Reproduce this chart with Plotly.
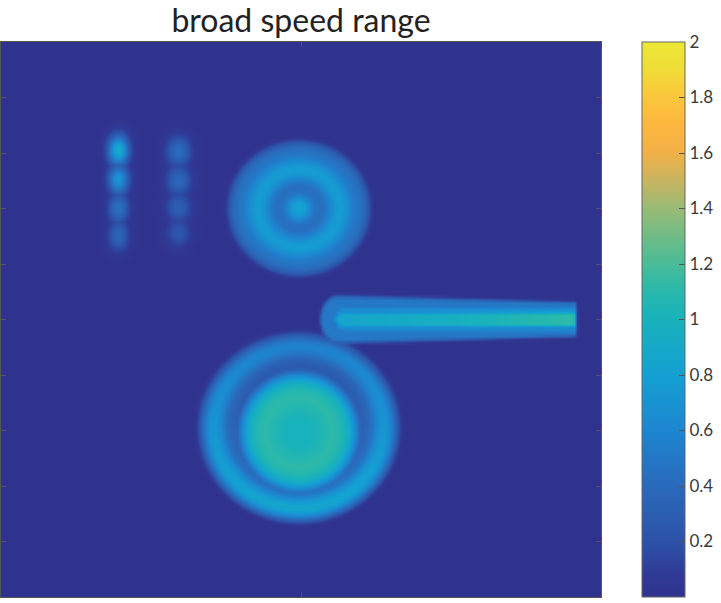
import numpy as np
import plotly.graph_objects as go

# ---------------- data ----------------
TITLE = "broad speed range"
CBAR_TICKS = [0.2, 0.4, 0.6, 0.8, 1.0, 1.2, 1.4, 1.6, 1.8, 2.0]
X_SIZE, Y_SIZE = 603, 555          # domain of the field (plot units)

# two columns of small blobs (upper left)
SPOT_COL_X = [118, 178]
SPOT_COL_Y = [[447, 418, 389, 362], [446, 417, 390, 365]]
SPOT_COL_AMP = [[0.94, 0.72, 0.46, 0.36], [0.42, 0.38, 0.31, 0.24]]
SPOT_COL_SX = [7.0, 8.5]
SPOT_COL_SY = [10.5, 10.5]

# upper target (radial profile)
UPPER_CENTER = (299, 389)
UPPER_ASPECT = 1.06
UPPER_R = [0, 6, 12, 17, 24, 31, 37, 43, 49, 55, 61, 65, 69, 73, 76]
UPPER_V = [0.84, 0.8, 0.6, 0.46, 0.43, 0.58, 0.74, 0.78, 0.66, 0.52, 0.46, 0.4, 0.28, 0.1, 0.0]

# lower target: inner disk and outer ring
DISK_CENTER = (299, 165)
DISK_R = [0, 14, 26, 34, 42, 48, 53, 57, 61, 65, 68]
DISK_V = [1.0, 1.0, 1.07, 1.12, 1.08, 0.98, 0.82, 0.62, 0.42, 0.2, 0.0]
RING_CENTER = (299, 170)
RING_ASPECT = 1.06
RING_R = [0, 54, 60, 66, 72, 78, 84, 89, 94, 98, 102, 105]
RING_V = [0.0, 0.0, 0.3, 0.34, 0.42, 0.6, 0.72, 0.7, 0.52, 0.32, 0.12, 0.0]
RING_BOTTOM_BOOST = 0.2

# horizontal bar (right)
BAR_Y = 278
BAR_HALO_X = [321, 578]
BAR_CORE_X = [338, 577]
BAR_CORE_VX = [338, 450, 577]
BAR_CORE_V = [0.86, 0.96, 1.13]
BAR_HALO_HALF = [24, 17]
BAR_CORE_HALF = 7.5
BAR_HALO_V = 0.5
BAR_GLOW_V = 0.66

# ---------------- field ----------------
STEP = 3
xs = np.arange(0, X_SIZE + STEP, STEP, dtype=float)
ys = np.arange(0, Y_SIZE + STEP, STEP, dtype=float)
X, Y = np.meshgrid(xs, ys)


def edge(v, w):
    t = np.clip(v / w + 0.5, 0, 1)
    return t * t * (3 - 2 * t)


Z = np.zeros_like(X)

for cx, cys, amps, sx, sy in zip(SPOT_COL_X, SPOT_COL_Y, SPOT_COL_AMP, SPOT_COL_SX, SPOT_COL_SY):
    for cy, a in zip(cys, amps):
        Z = np.maximum(Z, a * np.exp(-0.5 * (((X - cx) / sx) ** 2 + ((Y - cy) / sy) ** 2)))

r = np.sqrt((X - UPPER_CENTER[0]) ** 2 + ((Y - UPPER_CENTER[1]) * UPPER_ASPECT) ** 2)
Z = np.maximum(Z, np.interp(r, UPPER_R, UPPER_V, right=0))

r = np.sqrt((X - DISK_CENTER[0]) ** 2 + (Y - DISK_CENTER[1]) ** 2)
Z = np.maximum(Z, np.interp(r, DISK_R, DISK_V, right=0))

dy = (Y - RING_CENTER[1]) * RING_ASPECT
r = np.sqrt((X - RING_CENTER[0]) ** 2 + dy ** 2)
sin_t = np.where(r > 0, dy / np.maximum(r, 1e-9), 0)
ring = np.interp(r, RING_R, RING_V, right=0) * (1 + RING_BOTTOM_BOOST * (-sin_t))
Z = np.maximum(Z, ring)

# bar
t = np.clip((X - BAR_HALO_X[0]) / (BAR_HALO_X[1] - BAR_HALO_X[0]), 0, 1)
hw = BAR_HALO_HALF[0] + (BAR_HALO_HALF[1] - BAR_HALO_HALF[0]) * t
d = np.abs(Y - BAR_Y)
qx = np.maximum(0, BAR_HALO_X[0] + 18 - X) / 18
q = np.sqrt(qx ** 2 + (d / hw) ** 2)
right_cut = edge(BAR_HALO_X[1] - X, 4)
halo = BAR_HALO_V * edge(1 - q, 0.3) * right_cut
glow_q = np.sqrt((np.maximum(0, BAR_CORE_X[0] + 8 - X) / 12) ** 2 + (d / (BAR_CORE_HALF + 5)) ** 2)
glow = BAR_GLOW_V * edge(1 - glow_q, 0.4) * right_cut
cq = np.sqrt((np.maximum(0, BAR_CORE_X[0] + 8 - X) / 9) ** 2 + (d / BAR_CORE_HALF) ** 2)
core = np.interp(X, BAR_CORE_VX, BAR_CORE_V) * edge(1 - cq, 0.4) * edge(BAR_CORE_X[1] - X, 3)
Z = np.maximum(Z, np.maximum(halo, np.maximum(glow, core)))

# ---------------- figure ----------------
colorscale = [
    [0.00, '#30338e'], [0.04, '#2f3a96'], [0.10, '#2c52a8'], [0.20, '#2a6abb'],
    [0.30, '#1d86d0'], [0.40, '#14a0d2'], [0.50, '#18b2bc'], [0.55, '#28b8ac'],
    [0.60, '#48bc98'], [0.70, '#98bb74'], [0.75, '#c8b460'], [0.80, '#f2b148'],
    [0.85, '#fdb63e'], [0.90, '#fbc63c'], [0.95, '#f0dc38'], [1.00, '#ebe834'],
]

fig = go.Figure(go.Heatmap(
    x=xs, y=ys, z=np.round(Z, 3), zmin=0, zmax=2, zsmooth='best',
    colorscale=colorscale, hoverinfo='skip',
    colorbar=dict(
        x=(645 - 1) / 603, xanchor='left', xref='paper', xpad=0,
        y=0, yanchor='bottom', len=1, lenmode='fraction', ypad=0,
        thickness=43, outlinecolor='#666666', outlinewidth=1,
        tickvals=CBAR_TICKS, ticks='inside', ticklen=6, tickcolor='#555555',
        tickfont=dict(family='Lato, Open Sans, sans-serif', size=17, color='#3a3a3a'),
    ),
))

axis_common = dict(showline=True, linecolor='#555555', linewidth=1, mirror='ticks',
                   ticks='inside', ticklen=5, tickcolor='#555555', showticklabels=False,
                   showgrid=False, zeroline=False, tickmode='linear', tick0=0)
fig.update_xaxes(range=[0, X_SIZE], dtick=X_SIZE / 2, **axis_common)
fig.update_yaxes(range=[0, Y_SIZE], dtick=Y_SIZE / 10, **axis_common)

fig.update_layout(
    width=721, height=603,
    margin=dict(l=1, r=117, t=42, b=6),
    paper_bgcolor='white', plot_bgcolor='white',
    title=dict(text=TITLE, x=0.5, xanchor='center', xref='paper',
               y=1 - 21 / 603, yanchor='middle', yref='container',
               font=dict(family='Lato, Open Sans, sans-serif', size=32, color='#222222')),
)

fig.write_html("out.html")
